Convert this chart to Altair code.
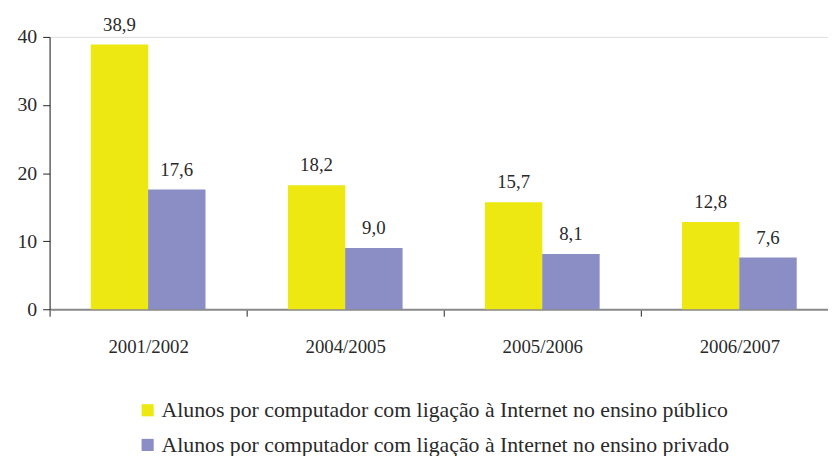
import altair as alt
import pandas as pd

years = ["2001/2002", "2004/2005", "2005/2006", "2006/2007"]
series = ["Alunos por computador com ligação à Internet no ensino público",
          "Alunos por computador com ligação à Internet no ensino privado"]
publico = [38.9, 18.2, 15.7, 12.8]
privado = [17.6, 9.0, 8.1, 7.6]
colors = ["#EDE811", "#8B8EC4"]

rows = []
for i, y in enumerate(years):
    for s, vals in zip(series, [publico, privado]):
        rows.append({"ano": y, "serie": s, "valor": vals[i],
                     "rotulo": f"{vals[i]:.1f}".replace(".", ",")})
df = pd.DataFrame(rows)

FONT = "Liberation Serif"

x = alt.X("ano:N", sort=years, title=None,
          scale=alt.Scale(range=[0, 796], paddingInner=0, paddingOuter=0),
          axis=alt.Axis(labelAngle=0, labelFontSize=19, labelFont=FONT, labelColor="#2a2a2a",
                        domainColor="#8a8a8a", domainWidth=2, tickColor="#222", tickSize=7,
                        tickBand="extent", labelPadding=22))
xo = alt.XOffset("serie:N", sort=series,
                 scale=alt.Scale(paddingInner=0, paddingOuter=0.72))
y = alt.Y("valor:Q", title=None,
          scale=alt.Scale(domain=[0, 40], nice=False),
          axis=alt.Axis(values=[0, 10, 20, 30, 40], grid=False, labelFontSize=20, labelFont=FONT,
                        labelColor="#2a2a2a", domainColor="#222", tickColor="#222",
                        tickSize=7, labelPadding=6))

bars = alt.Chart(df).mark_bar(size=58).encode(
    x=x, xOffset=xo, y=y,
    color=alt.Color("serie:N", sort=series,
                    scale=alt.Scale(domain=series, range=colors),
                    legend=alt.Legend(title=None, orient="none", legendX=88, legendY=366,
                                      direction="vertical", symbolType="square",
                                      symbolSize=150, symbolStrokeWidth=0,
                                      labelFont=FONT, labelFontSize=22, labelColor="#2a2a2a",
                                      labelLimit=800, rowPadding=13, symbolOffset=0,
                                      labelOffset=3))
)

labels = alt.Chart(df).mark_text(baseline="alphabetic", dy=-14, fontSize=19, font=FONT,
                                 color="#2a2a2a").encode(
    x=alt.X("ano:N", sort=years), xOffset=alt.XOffset("serie:N", sort=series),
    y=alt.Y("valor:Q"), text="rotulo:N"
)

chart = (bars + labels).properties(
    width=786, height=275,
    autosize=alt.AutoSizeParams(type="none"),
    padding={"left": 42, "top": 27, "right": 0, "bottom": 146},
).configure_view(stroke=None).configure_legend(labelFont=FONT).configure(font=FONT)

chart.save("out.html", embed_options={"renderer": "svg", "actions": False})
